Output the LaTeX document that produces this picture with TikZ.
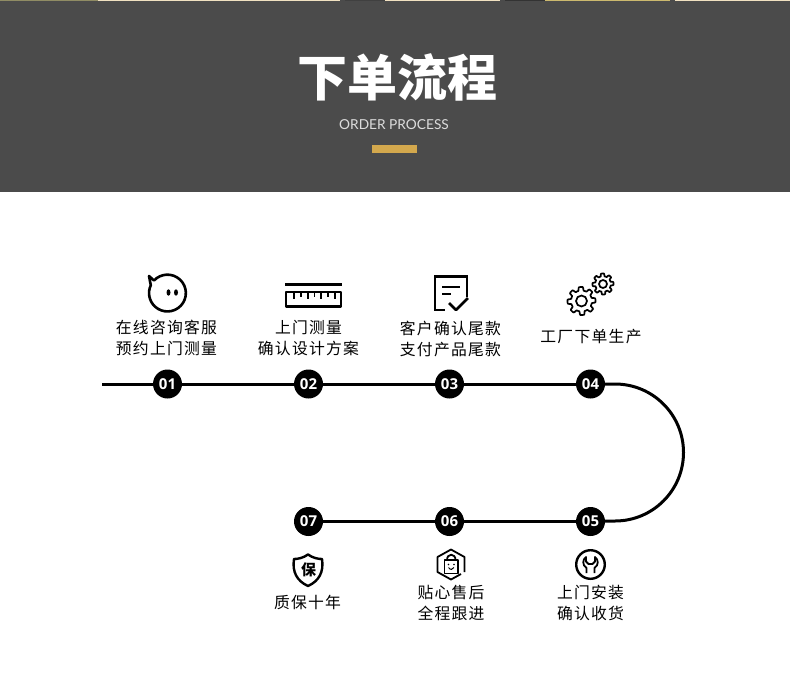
\documentclass[tikz,border=0pt]{standalone}
\usepackage{fontspec}
\setmainfont{Noto Sans CJK SC}
\newfontfamily\lblfont[LetterSpace=8]{Noto Sans CJK SC}
\newfontfamily\latinfont{Lato}
\newfontfamily\numfont{Open Sans}
\definecolor{hdr}{HTML}{4B4B4B}
\definecolor{goldbar}{HTML}{D3A84D}
\definecolor{subt}{HTML}{DCDCDC}
\newcommand{\gearicon}[5]{% cx cy Rout Rin hole
  \draw[icon,line width=1.7pt] plot[smooth,samples=145,domain=0:360,variable=\t]
    ({#1+(#4+(#3-#4)*max(0,min(1,0.5+1.4*cos(8*\t+22))))*cos(\t)},{#2+(#4+(#3-#4)*max(0,min(1,0.5+1.4*cos(8*\t+22))))*sin(\t)}) -- cycle;
  \draw[icon,line width=1.7pt] (#1,#2) circle (#5);
}
\tikzset{
  x=1pt,y=-1pt,
  track/.style={line width=3pt,black},
  badge/.style={circle,fill=black,minimum size=29pt,inner sep=0pt,text=white,font=\numfont\bfseries\fontsize{15}{15}\selectfont},
  lbl/.style={align=center,inner sep=0pt,text=black,font=\lblfont\fontsize{15.8}{21}\selectfont},
  icon/.style={draw=black,line width=2.4pt,line join=round,fill=none},
  thin icon/.style={icon,line width=1.8pt},
}
\begin{document}
\begin{tikzpicture}
\useasboundingbox (0,0) rectangle (790,675);
\fill[white] (0,0) rectangle (790,675);
\fill[hdr] (0,0) rectangle (790,192);
% photo strip along the top edge
\fill[gray!70!olive] (0,0) rectangle (98,1.2);
\fill[black!5!yellow!20!brown!30] (98,0) rectangle (340,1.2);
\fill[black!75] (345,0) rectangle (385,1.2);
\fill[yellow!20!brown!30] (385,0) rectangle (500,1.2);
\fill[black!80] (505,0) rectangle (545,1.2);
\fill[olive!50!brown!60] (545,0) rectangle (670,1.2);
\fill[yellow!20!brown!30] (675,0) rectangle (790,1.2);
% heading
\node[text=white,inner sep=0pt,font=\bfseries\fontsize{50}{50}\selectfont] (title) at (397.5,77) {下单流程};
\node[text=subt,inner sep=0pt,font=\latinfont\fontsize{13.7}{16}\selectfont] (sub) at (394,125) {ORDER PROCESS};
\fill[goldbar] (372,145) rectangle (417,153);
% badges positions
\coordinate (start) at (102,384);
\coordinate (ca) at (615,384);
\coordinate (cb) at (615,521);
\node[badge] (n1) at (167.5,384) {01};
\node[badge] (n2) at (308.5,384) {02};
\node[badge] (n3) at (449.5,384) {03};
\node[badge] (n4) at (590.5,384) {04};
\node[badge] (n5) at (590.5,521.5) {05};
\node[badge] (n6) at (449.5,521.5) {06};
\node[badge] (n7) at (308.5,521.5) {07};
\draw[track] (start) -- (n1);
\draw[track] (n1) -- (n2);
\draw[track] (n2) -- (n3);
\draw[track] (n3) -- (n4);
\draw[track] (n4) -- (ca) arc[start angle=-90,end angle=90,radius=68.5] -- (n5);
\draw[track] (n5) -- (n6);
\draw[track] (n6) -- (n7);
% labels
\node[lbl] (t1) at (166.5,338) {在线咨询客服\\预约上门测量};
\node[lbl] (t2) at (308.5,338) {上门测量\\确认设计方案};
\node[lbl] (t3) at (450.5,339) {客户确认尾款\\支付产品尾款};
\node[lbl] (t4) at (591,336.5) {工厂下单生产};
\node[lbl] (t5) at (590.5,602.5) {上门安装\\确认收货};
\node[lbl] (t6) at (451,602.5) {贴心售后\\全程跟进};
\node[lbl] (t7) at (307.5,602.5) {质保十年};
% icon 1: face
\draw[icon,line width=2.6pt] (154,280.5) arc[start angle=-137,end angle=205,radius=18.4] -- (149,276) -- cycle;
\fill (168.5,292.5) ellipse (2 and 3.2);
\fill (176,292.5) ellipse (2 and 3.2);
% icon 2: ruler
\draw[icon,line width=3pt] (285,284.5) -- (342,284.5);
\draw[icon,line width=2.6pt] (286,292) rectangle (341,306.5);
\foreach \x/\l in {294/7,301/4.5,308/7,314.5/4.5,321/7,328/4.5,335/7}
  \draw[black,line width=1.8pt] (\x,292) -- ++(0,\l);
% icon 3: document with tick
\draw[icon,line join=miter] (467,297) -- (467,276.5) -- (435,276.5) -- (435,310) -- (445,310);
\draw[icon] (442,287) -- (460,287);
\draw[icon] (442,294) -- (451,294);
\draw[icon,line width=2.6pt] (449,303) -- (456,310) -- (468,298);
% icon 4: gears
\gearicon{581.5}{301}{14}{10.5}{5.5}
\gearicon{603}{284}{10.5}{7.8}{4}
% icon 5: round wrench
\draw[icon] (590.5,564.5) circle (14.3);
\draw[thin icon] (586.5,573) -- (586.5,568) .. controls (582,565) and (582.5,559.5) .. (586,557) -- (586,561.5) -- (588.5,564) -- (592.5,564) -- (595,561.5) -- (595,557) .. controls (598.5,559.5) and (599,565) .. (594.5,568) -- (594.5,573);
% icon 6: hexagon bag
\draw[thin icon] (461,574) -- (451,579.5) -- (437.5,572) -- (437.5,557) -- (451,549.5) -- (464.5,557) -- (464.5,572);
\draw[thin icon] (444.5,560) rectangle (458,573.5);
\draw[thin icon] (447,560) .. controls (447,553) and (455.5,553) .. (455.5,560);
\fill (448.5,564.5) circle (0.9);
\fill (454,564.5) circle (0.9);
\draw[black,line width=1pt] (448.5,567.5) .. controls (450,570) and (453,570) .. (454,567.5);
% icon 7: shield
\draw[icon] (308,554.5) .. controls (303,558) and (298,559) .. (294,559) .. controls (292,572) and (297,581) .. (308,586) .. controls (319,581) and (324,572) .. (322,559) .. controls (318,559) and (313,558) .. (308,554.5) -- cycle;
\node[inner sep=0pt,text=black,font=\bfseries\fontsize{15}{15}\selectfont] (bao) at (308.5,569.5) {保};
\end{tikzpicture}
\end{document}
